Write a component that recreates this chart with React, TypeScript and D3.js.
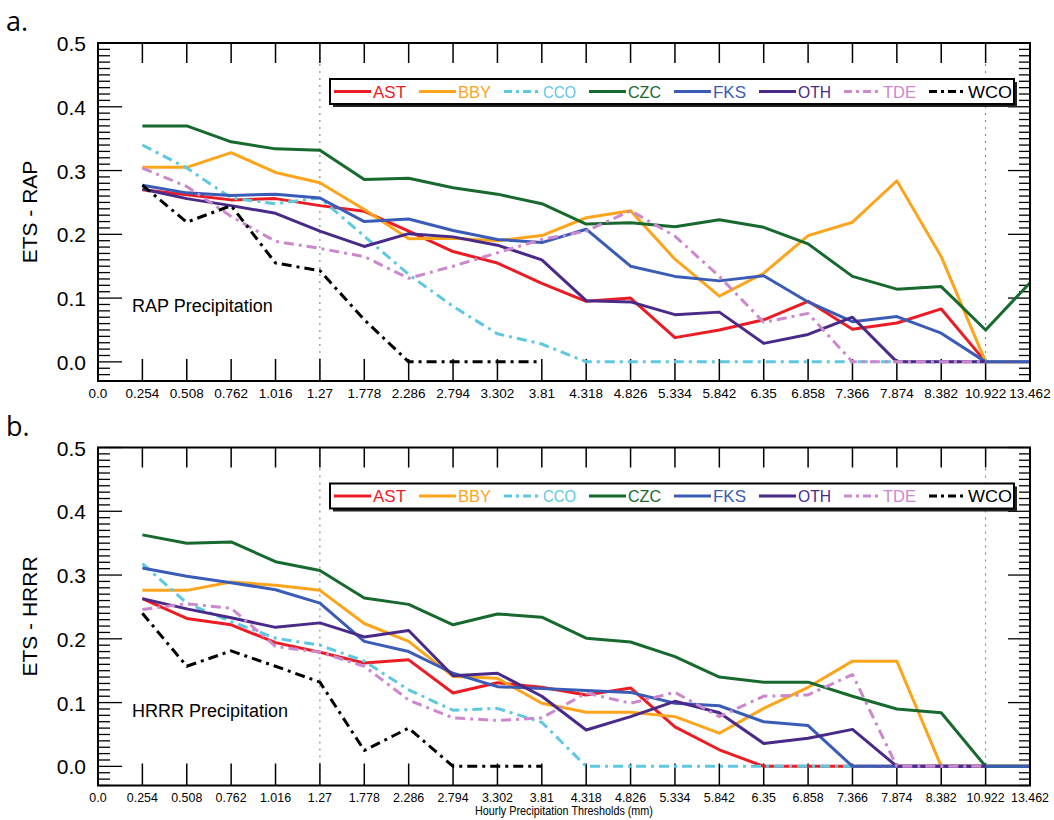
import React from "react";
import * as d3 from "d3";

const xLabels = ["0.0","0.254","0.508","0.762","1.016","1.27","1.778","2.286","2.794","3.302","3.81","4.318","4.826","5.334","5.842","6.35","6.858","7.366","7.874","8.382","10.922","13.462"];
const stations = ["AST","BBY","CCO","CZC","FKS","OTH","TDE","WCO"];
const colors = ["#ec1c24","#fca51c","#5ec8e0","#17692e","#3a5cb6","#4a2a88","#cc88cc","#000000"];
const dashed = [false,false,true,false,false,false,true,true];
const yTicks = [0, 0.1, 0.2, 0.3, 0.4, 0.5];
const yTickLabels = ["0.0","0.1","0.2","0.3","0.4","0.5"];

type V = number | null;
const rapAST: V[] = [null,.270,.262,.254,.256,.245,.236,.205,.173,.155,.123,.095,.100,.038,.050,.066,.095,.051,.061,.083,0,0];
const rapBBY: V[] = [null,.305,.305,.328,.297,.281,.239,.193,.194,.190,.198,.226,.237,.161,.103,.139,.198,.219,.284,.165,0,0];
const rapCCO: V[] = [null,.340,.304,.257,.248,.257,.197,.137,.087,.044,.028,0,0,0,0,0,0,0,0,0,0,0];
const rapCZC: V[] = [null,.370,.370,.345,.334,.332,.286,.288,.273,.263,.248,.216,.218,.212,.223,.211,.185,.134,.114,.118,.050,.124];
const rapFKS: V[] = [null,.277,.265,.261,.263,.257,.220,.224,.206,.192,.187,.208,.150,.134,.127,.135,.094,.063,.071,.045,0,0];
const rapOTH: V[] = [null,.271,.256,.245,.233,.205,.181,.201,.196,.183,.160,.096,.094,.074,.078,.029,.043,.070,0,0,0,null];
const rapTDE: V[] = [null,.304,.275,.228,.189,.178,.165,.131,.150,.171,.192,.205,.237,.197,.134,.062,.076,0,0,0,0,null];
const rapWCO: V[] = [null,.277,.219,.245,.155,.143,.066,0,0,0,0,null,null,null,null,null,null,null,null,null,null,null];

const hrrrAST: V[] = [null,.263,.232,.222,.194,.179,.162,.167,.115,.131,.124,.112,.123,.062,.026,0,0,0,0,0,0,0];
const hrrrBBY: V[] = [null,.276,.276,.289,.284,.276,.224,.196,.141,.138,.099,.085,.085,.078,.052,.091,.124,.165,.165,0,0,0];
const hrrrCCO: V[] = [null,.318,.256,.227,.201,.190,.165,.120,.088,.091,.069,0,0,0,0,0,0,0,0,0,0,0];
const hrrrCZC: V[] = [null,.363,.350,.352,.321,.307,.264,.254,.222,.239,.234,.201,.195,.172,.140,.132,.132,.110,.090,.084,0,0];
const hrrrFKS: V[] = [null,.311,.298,.288,.277,.256,.196,.180,.146,.125,.122,.119,.116,.099,.095,.070,.064,0,0,0,0,0];
const hrrrOTH: V[] = [null,.263,.247,.233,.218,.225,.203,.213,.142,.146,.110,.057,.078,.102,.084,.036,.044,.058,0,0,0,null];
const hrrrTDE: V[] = [null,.246,.255,.248,.188,.179,.157,.104,.076,.072,.076,.115,.099,.116,.078,.110,.112,.144,0,0,0,null];
const hrrrWCO: V[] = [null,.240,.157,.181,.157,.132,.025,.060,0,0,0,null,null,null,null,null,null,null,null,null,null,null];

const rapSeries = [rapAST, rapBBY, rapCCO, rapCZC, rapFKS, rapOTH, rapTDE, rapWCO];
const hrrrSeries = [hrrrAST, hrrrBBY, hrrrCCO, hrrrCZC, hrrrFKS, hrrrOTH, hrrrTDE, hrrrWCO];
const refLines = ["1.27", "10.922"];

const SANS = "'Liberation Sans', Arial, Helvetica, sans-serif";
const LEFT = 98, RIGHT = 1030;
const DASH = "10,5,3,5";

function Panel({ top, bottom, series, letter, yTitle, note, showXTitle }: any) {
  const x = d3.scalePoint<string>().domain(xLabels).range([LEFT, RIGHT]).padding(0);
  const y = d3.scaleLinear().domain([-0.03, 0.5]).range([bottom, top]);
  const line = d3.line<V>()
    .defined((d) => d != null)
    .x((_, i) => x(xLabels[i]) as number)
    .y((d) => y(d as number));
  const minor = d3.range(-3, 51).map((i) => i / 100);
  const legTop = top + 36, legH = 25, legL = 330, legR = 1014;
  const legStep = (legR - legL - 4) / stations.length;
  return (
    <g>
      <text x={6} y={top - 12} fontFamily="'Open Sans', sans-serif" fontSize={27}>{letter}</text>
      {refLines.map((r) => (
        <line key={r} x1={x(r)} x2={x(r)} y1={top} y2={bottom} stroke="#777" strokeWidth={1} strokeDasharray="2,5" />
      ))}
      {xLabels.slice(1, -1).map((l) => (
        <g key={l}>
          <line x1={x(l)} x2={x(l)} y1={bottom} y2={bottom - 22} stroke="#000" strokeWidth={1.5} />
          <line x1={x(l)} x2={x(l)} y1={top} y2={top + 20} stroke="#000" strokeWidth={1.5} />
        </g>
      ))}
      {minor.map((v) => {
        const major = Math.abs(Math.round(v * 100) % 10) === 0;
        return (
          <g key={v}>
            <line x1={LEFT} x2={LEFT + (major ? 24 : 12)} y1={y(v)} y2={y(v)} stroke="#000" strokeWidth={1.3} />
            <line x1={RIGHT} x2={RIGHT - (major ? 22 : 11)} y1={y(v)} y2={y(v)} stroke="#000" strokeWidth={1.3} />
          </g>
        );
      })}
      {series.map((s: V[], k: number) => (
        <path key={stations[k]} d={line(s) || ""} fill="none" stroke={colors[k]} strokeWidth={3}
          strokeDasharray={dashed[k] ? DASH : undefined} strokeLinejoin="round" />
      ))}
      <rect x={legL + 3} y={legTop + 3} width={legR - legL} height={legH} fill="#222" />
      <rect x={legL} y={legTop} width={legR - legL} height={legH} fill="#fff" stroke="#000" strokeWidth={2} />
      {stations.map((st, k) => {
        const lx = legL + 4 + k * legStep;
        const cy = legTop + legH / 2;
        return (
          <g key={st}>
            <line x1={lx} x2={lx + 37} y1={cy} y2={cy} stroke={colors[k]} strokeWidth={3}
              strokeDasharray={dashed[k] ? "8,4,3,4" : undefined} />
            <text x={lx + 39} y={cy + 6} fill={colors[k]} fontFamily={SANS} fontSize={17}
              textLength={st === "WCO" ? 44 : 33} lengthAdjust="spacingAndGlyphs">{st}</text>
          </g>
        );
      })}
      <rect x={LEFT} y={top} width={RIGHT - LEFT} height={bottom - top} fill="none" stroke="#000" strokeWidth={2} />
      {yTicks.map((v, i) => (
        <text key={v} x={86} y={y(v) + 8} textAnchor="end" fontFamily={SANS} fontSize={21}>{yTickLabels[i]}</text>
      ))}
      {xLabels.map((l) => (
        <text key={l} x={x(l)} y={bottom + 17} textAnchor="middle" fontFamily={SANS} fontSize={13.5}
          transform={showXTitle ? `translate(${x(l)},0) scale(0.92,1) translate(${-(x(l) as number)},0)` : undefined}>{l}</text>
      ))}
      <text transform={`translate(37,${(top + bottom) / 2}) rotate(-90)`} textAnchor="middle" fontFamily={SANS} fontSize={21}>{yTitle}</text>
      <text x={132} y={y(0.09) + 8} fontFamily={SANS} fontSize={18}>{note}</text>
      {showXTitle && (
        <text x={(LEFT + RIGHT) / 2} y={bottom + 30} textAnchor="middle" fontFamily={SANS} fontSize={12}
          transform={`translate(${(LEFT + RIGHT) / 2},0) scale(0.9,1) translate(${-(LEFT + RIGHT) / 2},0)`}>Hourly Precipitation Thresholds (mm)</text>
      )}
    </g>
  );
}

export default function App() {
  return (
    <svg width={1054} height={820} style={{ position: "absolute", left: 0, top: 0, background: "#fff" }}>
      <rect width={1054} height={820} fill="#fff" />
      <Panel top={43} bottom={381} series={rapSeries} letter="a." yTitle="ETS - RAP" note="RAP Precipitation" showXTitle={false} />
      <Panel top={447.5} bottom={785.5} series={hrrrSeries} letter="b." yTitle="ETS - HRRR" note="HRRR Precipitation" showXTitle={true} />
    </svg>
  );
}
